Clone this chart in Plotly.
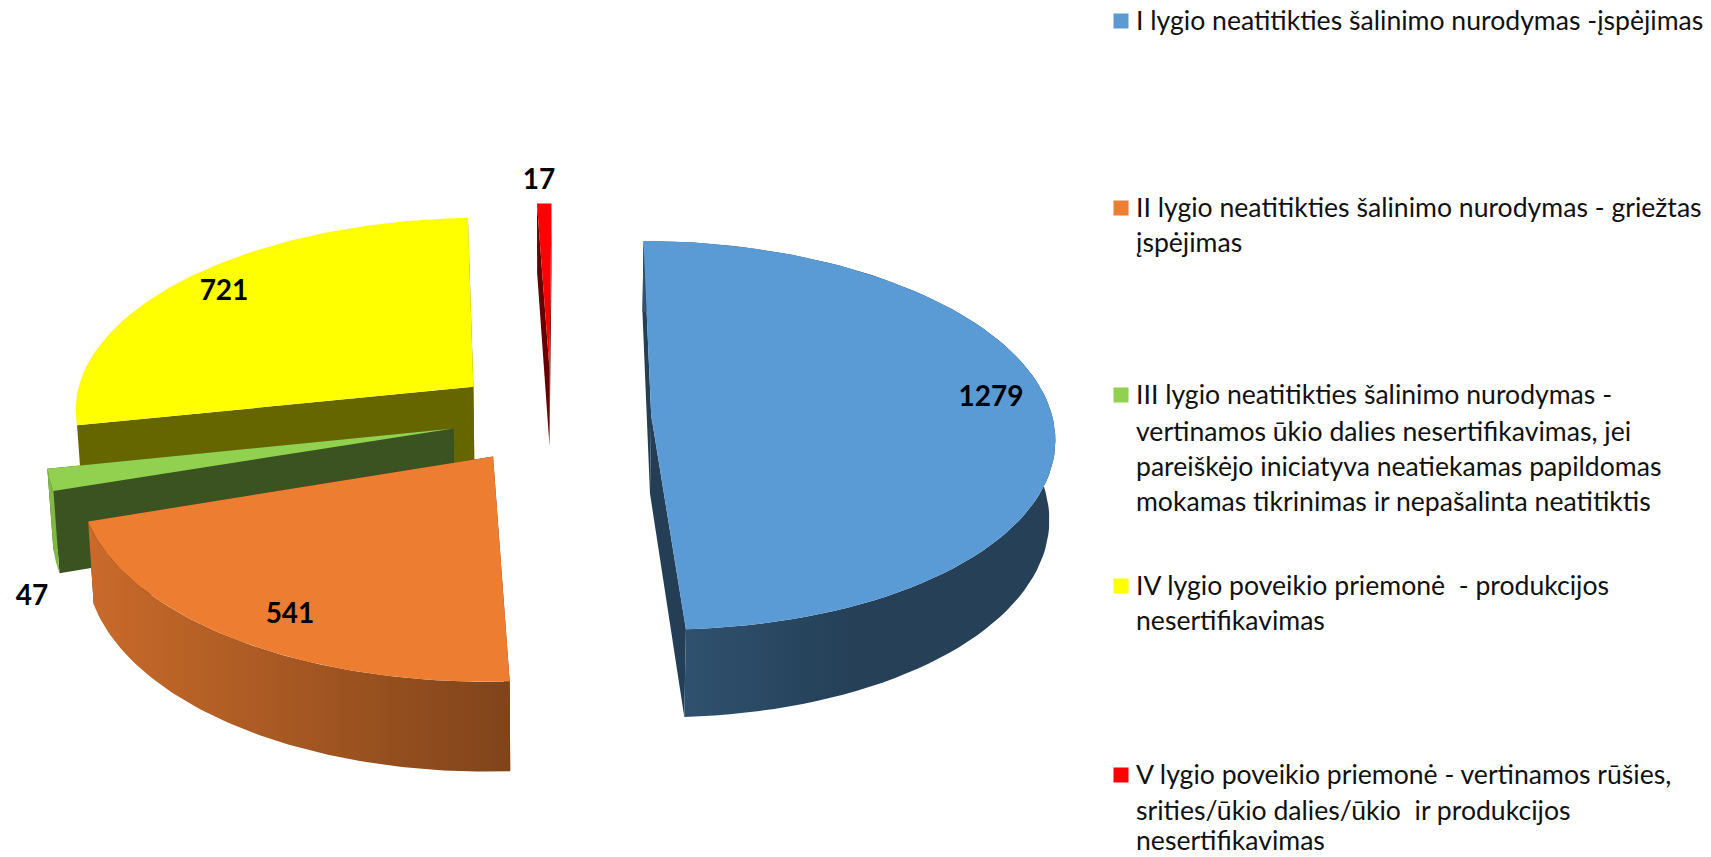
import numpy as np
import plotly.graph_objects as go

# ---- data ----
CATEGORIES = ["I", "II", "III", "IV", "V"]
VALUES = [1279, 541, 47, 721, 17]
TOP_COLORS = ["#5B9BD5", "#ED7D31", "#92D050", "#FFFF00", "#FF0000"]
LEGEND_LINES = [
    ["I lygio neatitikties šalinimo nurodymas -įspėjimas"],
    ["II lygio neatitikties šalinimo nurodymas - griežtas", "įspėjimas"],
    ["III lygio neatitikties šalinimo nurodymas -",
     "vertinamos ūkio dalies nesertifikavimas, jei",
     "pareiškėjo iniciatyva neatiekamas papildomas",
     "mokamas tikrinimas ir nepašalinta neatitiktis"],
    ["IV lygio poveikio priemonė  - produkcijos", "nesertifikavimas"],
    ["V lygio poveikio priemonė - vertinamos rūšies,",
     "srities/ūkio dalies/ūkio  ir produkcijos", "nesertifikavimas"],
]

# ---- layout constants (pixels) ----
W, H = 1711, 857
CX, CY, RX, RY, PERSP, DEPTH, PULL, BOTTOM_SHRINK = 551, 416, 401, 192.4, 0.105, 78.5, 0.25, 0.988
START_ANGLE = 0.3
SHADE_X = [0, 50, 90, 510, 685, 850, 1711]
SHADE_F = [0.88, 0.88, 0.85, 0.54, 0.52, 0.41, 0.41]
RADIAL_SHADE = 0.4
OUTER_WALL = [True, True, True, False, False]
LEGEND_Y = [[21], [208, 243], [395, 432, 467, 502], [586, 621], [775, 811, 841]]
TEXT_DY = 2
LABEL_POS = [(991, 399), (290, 616), (32, 598), (224, 293), (539, 182)]
FONT = "Lato"


def project(u, v):
    s = 1 / (1 - PERSP * v)
    return CX + RX * u * s, CY + RY * v * s, s


def lower(x, y, s):
    return CX + (x - CX) * BOTTOM_SHRINK, y + DEPTH * s


def shade(hexcol, f):
    r, g, b = (int(hexcol[i:i + 2], 16) for i in (1, 3, 5))
    return f"rgb({r * f:.0f},{g * f:.0f},{b * f:.0f})"


fig = go.Figure()


def poly(xs, ys, color):
    fig.add_trace(go.Scatter(x=list(xs), y=list(ys), mode="lines", fill="toself", fillcolor=color,
                             line=dict(width=0), hoverinfo="skip", showlegend=False))


total = sum(VALUES)
angle = START_ANGLE
slices = []
for val, col, outer in zip(VALUES, TOP_COLORS, OUTER_WALL):
    sweep = val / total * 360
    slices.append((angle, angle + sweep, col, outer))
    angle += sweep

# paint back-to-front: V, IV, III, II, I
for a0, a1, col, outer in reversed(slices):
    mid = np.radians((a0 + a1) / 2)
    ou, ov = PULL * np.sin(mid), -PULL * np.cos(mid)
    th = np.radians(np.linspace(a0, a1, 90))
    xa, ya, sa = project(ou + np.sin(th), ov - np.cos(th))
    xb, yb = lower(xa, ya, sa)
    ax, ay, asc = project(ou, ov)
    bx, by = lower(ax, ay, asc)
    wall = shade(col, RADIAL_SHADE)
    # two radial faces
    for i in (0, -1):
        poly([ax, xa[i], xb[i], bx, ax], [ay, ya[i], yb[i], by, ay], wall)
    # outer wall with a left-to-right gradient
    if outer:
        xmin, xmax = float(min(xa.min(), xb.min())), float(max(xa.max(), xb.max()))
        stops = [xmin] + [x for x in SHADE_X if xmin < x < xmax] + [xmax]
        scale = [[(x - xmin) / (xmax - xmin), shade(col, float(np.interp(x, SHADE_X, SHADE_F)))] for x in stops]
        fig.add_trace(go.Scatter(
            x=np.r_[xa, xb[::-1], xa[0]], y=np.r_[ya, yb[::-1], ya[0]], mode="lines", fill="toself",
            fillgradient=dict(type="horizontal", colorscale=scale, start=xmin, stop=xmax),
            line=dict(width=0), hoverinfo="skip", showlegend=False))
    # top surface
    poly(np.r_[ax, xa, ax], np.r_[ay, ya, ay], col)

# value labels
fig.add_trace(go.Scatter(
    x=[p[0] for p in LABEL_POS], y=[p[1] for p in LABEL_POS], mode="text",
    text=[str(v) for v in VALUES], textposition="middle center",
    textfont=dict(family=FONT, size=28, color="#000000", weight="bold"),
    hoverinfo="skip", showlegend=False))

# legend
fig.add_trace(go.Scatter(
    x=[1121] * len(CATEGORIES), y=[ys[0] for ys in LEGEND_Y], mode="markers",
    marker=dict(symbol="square", size=15, color=TOP_COLORS, line=dict(width=0)),
    hoverinfo="skip", showlegend=False))
fig.add_trace(go.Scatter(
    x=[1136] * sum(len(l) for l in LEGEND_LINES),
    y=[y + TEXT_DY for ys in LEGEND_Y for y in ys],
    text=[t.replace("  ", "\u00a0 ") for ls in LEGEND_LINES for t in ls],
    mode="text", textposition="middle right",
    textfont=dict(family=FONT, size=26.6, color="#111111"),
    hoverinfo="skip", showlegend=False))

fig.update_layout(
    width=W, height=H, margin=dict(l=0, r=0, t=0, b=0, pad=0),
    paper_bgcolor="white", plot_bgcolor="white", showlegend=False,
    xaxis=dict(range=[0, W], visible=False, fixedrange=True),
    yaxis=dict(range=[H, 0], visible=False, fixedrange=True),
)
fig.write_html("out.html", config={"displayModeBar": False},
               post_script="document.body.style.margin='0';document.body.style.overflow='hidden';")
